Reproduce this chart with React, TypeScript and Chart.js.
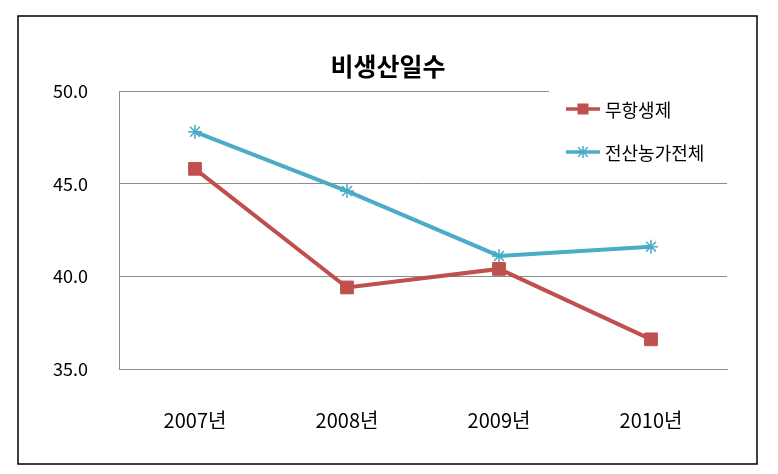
import React, { useEffect, useRef } from "react";
import { Chart, registerables } from "chart.js";

Chart.register(...registerables);

const categories = ["2007년", "2008년", "2009년", "2010년"];
const seriesNames = ["무항생제", "전산농가전체"];
const organicValues = [45.8, 39.4, 40.4, 36.6];
const allFarmsValues = [47.8, 44.6, 41.1, 41.6];
const yMin = 35;
const yMax = 50;
const yStep = 5;
const titleText = "비생산일수";

const FONT = '"Noto Sans CJK KR", "Noto Sans", sans-serif';
const RED = "#C0504D";
const BLUE = "#4BACC6";
const GRID = "#8C8C8C";

const framePlugin = {
  id: "frame",
  beforeDraw(chart: any) {
    const ctx = chart.ctx;
    ctx.save();
    ctx.fillStyle = "#ffffff";
    ctx.fillRect(0, 0, chart.width, chart.height);
    ctx.strokeStyle = "#000000";
    ctx.lineWidth = 1.5;
    ctx.strokeRect(18, 16, 739, 448);
    ctx.restore();
  },
};

const legendPlugin = {
  id: "insideLegend",
  afterDraw(chart: any) {
    const ctx = chart.ctx;
    const area = chart.chartArea;
    ctx.save();
    ctx.fillStyle = "#ffffff";
    ctx.fillRect(549, area.top - 3, area.right - 549 + 2, 80);
    chart.data.datasets.forEach((ds: any, i: number) => {
      const y = 109 + i * 43;
      ctx.strokeStyle = ds.borderColor;
      ctx.lineWidth = 3.5;
      ctx.beginPath();
      ctx.moveTo(566, y);
      ctx.lineTo(600, y);
      ctx.stroke();
      const cx = 583;
      if (ds.pointStyle === "rect") {
        ctx.fillStyle = ds.borderColor;
        ctx.fillRect(cx - 5.5, y - 5.5, 11, 11);
      } else {
        ctx.lineWidth = 1.5;
        const r = 6;
        ctx.beginPath();
        ctx.moveTo(cx, y - r);
        ctx.lineTo(cx, y + r);
        ctx.moveTo(cx - r * 0.8, y - r * 0.8);
        ctx.lineTo(cx + r * 0.8, y + r * 0.8);
        ctx.moveTo(cx - r * 0.8, y + r * 0.8);
        ctx.lineTo(cx + r * 0.8, y - r * 0.8);
        ctx.stroke();
      }
      ctx.fillStyle = "#000000";
      ctx.font = `18px ${FONT}`;
      ctx.textBaseline = "middle";
      ctx.textAlign = "left";
      ctx.fillText(ds.label, 605, y + 1);
    });
    ctx.restore();
  },
};

export default function App() {
  const canvasRef = useRef<HTMLCanvasElement | null>(null);

  useEffect(() => {
    if (!canvasRef.current) return;
    const chart = new Chart(canvasRef.current, {
      type: "line",
      data: {
        labels: categories,
        datasets: [
          {
            label: seriesNames[0],
            data: organicValues,
            borderColor: RED,
            backgroundColor: RED,
            borderWidth: 4,
            pointStyle: "rect",
            pointRadius: 9,
            pointBackgroundColor: RED,
            pointBorderColor: RED,
            pointBorderWidth: 1,
            tension: 0,
          },
          {
            label: seriesNames[1],
            data: allFarmsValues,
            borderColor: BLUE,
            backgroundColor: BLUE,
            borderWidth: 4,
            pointStyle: "star",
            pointRadius: 7,
            pointBackgroundColor: BLUE,
            pointBorderColor: BLUE,
            pointBorderWidth: 1.5,
            tension: 0,
          },
        ],
      },
      options: {
        animation: false,
        responsive: true,
        maintainAspectRatio: false,
        layout: { padding: { left: 49, right: 51, top: 0, bottom: 0 } },
        plugins: {
          legend: { display: false },
          tooltip: { enabled: false },
          title: {
            display: true,
            text: titleText,
            color: "#000000",
            font: { family: FONT, size: 25, weight: "bold" },
            padding: { top: 51, bottom: 10 },
          },
        },
        scales: {
          x: {
            offset: true,
            grid: { display: false, drawTicks: false },
            border: { display: true, color: GRID, width: 1 },
            ticks: {
              color: "#000000",
              font: { family: FONT, size: 20 },
              padding: 39,
              maxRotation: 0,
              autoSkip: false,
            },
            afterFit: (scale: any) => {
              scale.height = 105;
            },
          },
          y: {
            min: yMin,
            max: yMax,
            grid: { color: GRID, lineWidth: 1, drawTicks: false },
            border: { display: true, color: GRID, width: 1 },
            ticks: {
              stepSize: yStep,
              color: "#000000",
              font: { family: FONT, size: 18 },
              padding: 31,
              callback: (v: any) => Number(v).toFixed(1),
            },
            afterFit: (scale: any) => {
              scale.width = 70;
            },
          },
        },
      },
      plugins: [framePlugin, legendPlugin],
    });
    return () => chart.destroy();
  }, []);

  return (
    <div
      style={{
        position: "fixed",
        left: 0,
        top: 0,
        width: 778,
        height: 474,
        background: "#ffffff",
      }}
    >
      <canvas ref={canvasRef} />
    </div>
  );
}
